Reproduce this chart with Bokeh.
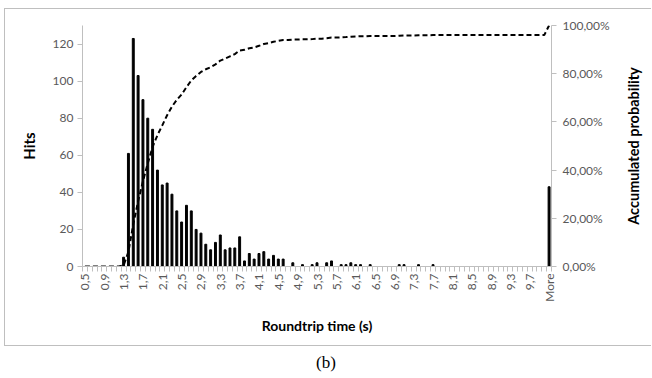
import numpy as np
from bokeh.plotting import figure
from bokeh.models import Range1d, LinearAxis, FixedTicker, Div
from bokeh.layouts import column, row
from bokeh.embed import file_html
from bokeh.resources import INLINE

# Histogram bins (upper bounds in seconds, 0,5 ... 10,0) plus "More"
bin_labels = [f"{(5 + i) / 10:.1f}".replace(".", ",") for i in range(96)] + ["More"]

# Hits per bin
hits = [0, 0, 0, 0, 0, 0, 0, 0,          # 0,5 - 1,2
        5, 61, 123, 103, 90, 80, 74, 52,  # 1,3 - 2,0
        44, 45, 39, 30, 24, 33, 30, 20,   # 2,1 - 2,8
        18, 12, 9, 13, 17, 9, 10, 10,     # 2,9 - 3,6
        16, 3, 7, 4, 7, 8, 4, 6,          # 3,7 - 4,4
        4, 4, 0, 2, 0, 1, 0, 1,           # 4,5 - 5,2
        2, 0, 2, 3, 0, 1, 1, 2,           # 5,3 - 6,0
        1, 1, 0, 1, 0, 0, 0, 0,           # 6,1 - 6,8
        0, 1, 1, 0, 0, 1, 0, 0,           # 6,9 - 7,6
        1, 0, 0, 0, 0, 0, 0, 0,           # 7,7 - 8,4
        0, 0, 0, 0, 0, 0, 0, 0,           # 8,5 - 9,2
        0, 0, 0, 0, 0, 0, 0, 0,           # 9,3 - 10,0
        43]                               # More

left_ticks = [0, 20, 40, 60, 80, 100, 120]
right_ticks = [0, 20, 40, 60, 80, 100]
right_labels = ["0,00%", "20,00%", "40,00%", "60,00%", "80,00%", "100,00%"]
right_title = "Accumulated probability"

idx = list(range(len(hits)))
cum = (np.cumsum(hits) / np.sum(hits) * 100).tolist()

FONT = "Lato"
AX = "#bfbfbf"
TXT = "#595959"
BORDER = "1px solid #bfbfbf"

p = figure(width=607, height=338, output_backend="svg", toolbar_location=None,
           x_range=Range1d(-0.5, len(hits) - 0.5), y_range=Range1d(0, 130),
           min_border_left=77, min_border_right=61, min_border_top=16, min_border_bottom=81)
p.extra_y_ranges = {"pct": Range1d(0, 100)}
p.outline_line_color = None
p.xgrid.visible = False
p.ygrid.visible = False
p.styles = {"border-left": BORDER, "border-top": BORDER, "border-bottom": BORDER,
            "margin-left": "4px", "margin-top": "8px"}

p.vbar(x=idx, top=hits, width=0.4, color="black")
p.line(idx, cum, y_range_name="pct", line_dash="5 3", line_width=2, color="black")

# x axis
xa = p.xaxis[0]
xa.ticker = FixedTicker(ticks=idx[::4], minor_ticks=[i - 0.5 for i in idx] + [idx[-1] + 0.5])
xa.major_label_overrides = {i: bin_labels[i] for i in idx[::4]}
xa.major_label_orientation = np.pi / 2
xa.major_tick_line_color = None
xa.major_tick_out = 4
xa.major_tick_in = 0
xa.minor_tick_out = 5
xa.minor_tick_in = 0
xa.minor_tick_line_color = AX
xa.axis_line_color = AX
xa.major_label_standoff = 2
xa.axis_label = "Roundtrip time (s)"

# left axis
ya = p.yaxis[0]
ya.ticker = FixedTicker(ticks=left_ticks)
ya.major_tick_out = 5
ya.major_tick_in = 0
ya.minor_tick_line_color = None
ya.axis_line_color = AX
ya.major_tick_line_color = AX
ya.major_label_standoff = 4
ya.axis_label = "Hits"

# right axis (ticks)
ra = LinearAxis(y_range_name="pct", ticker=FixedTicker(ticks=right_ticks),
                major_label_overrides={t: l for t, l in zip(right_ticks, right_labels)})
ra.major_tick_out = 5
ra.major_tick_in = 0
ra.minor_tick_line_color = None
ra.axis_line_color = AX
ra.major_tick_line_color = AX
ra.major_label_standoff = 6
p.add_layout(ra, "right")

for a in [xa, ya, ra]:
    a.major_label_text_font = FONT
    a.major_label_text_font_size = "12px"
    a.major_label_text_color = TXT
    a.axis_label_text_font = FONT
    a.axis_label_text_font_style = "bold"
    a.axis_label_text_color = "black"
    a.axis_label_standoff = 12
xa.axis_label_text_font_size = "14px"
ya.axis_label_text_font_size = "15px"

# narrow strip carrying the right-hand title (reads bottom to top)
p2 = figure(width=40, height=338, output_backend="svg", toolbar_location=None,
            x_range=Range1d(0, 1), y_range=Range1d(0, 1),
            min_border_left=30, min_border_right=0, min_border_top=16, min_border_bottom=81)
p2.outline_line_color = None
p2.xgrid.visible = False
p2.ygrid.visible = False
p2.xaxis.visible = False
p2.scatter([0.5], [0.5], alpha=0)
p2.styles = {"border-top": BORDER, "border-bottom": BORDER, "margin-top": "8px"}
la = p2.yaxis[0]
la.ticker = FixedTicker(ticks=[])
la.axis_line_color = None
la.major_tick_line_color = None
la.minor_tick_line_color = None
la.major_tick_out = 0
la.minor_tick_out = 0
la.major_label_standoff = 0
la.axis_label = right_title
la.axis_label_standoff = 0
la.axis_label_text_font = FONT
la.axis_label_text_font_style = "bold"
la.axis_label_text_font_size = "14.5px"
la.axis_label_text_color = "black"

cap = Div(text="(b)", width=644, height=24,
          styles={"font-family": "Liberation Serif", "font-size": "17px", "text-align": "center",
                  "width": "644px", "margin-left": "4px", "padding-top": "0px"})

layout = column(row(p, p2), cap)
open("out.html", "w").write(file_html(layout, INLINE))
